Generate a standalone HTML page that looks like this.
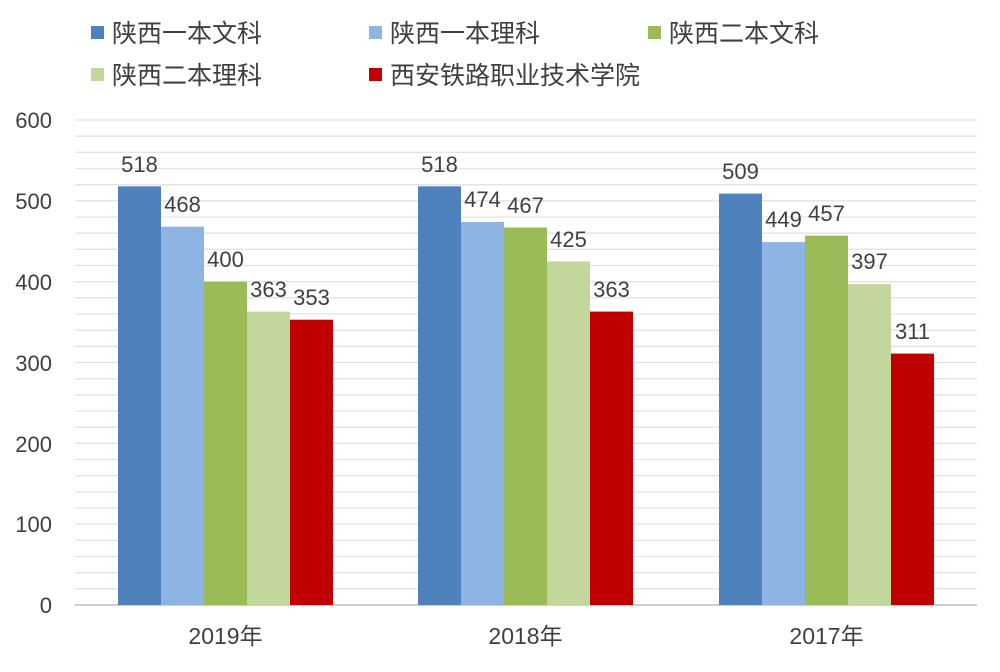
<!DOCTYPE html><html><head><meta charset="utf-8"><style>body{margin:0;background:#fff}</style></head><body>
<svg width="1000" height="667" xmlns="http://www.w3.org/2000/svg" font-family="Liberation Sans, Noto Sans CJK SC, sans-serif">
<g stroke="#e3e3e3" stroke-width="1.3">
<line x1="75" x2="977" y1="120" y2="120"/><line x1="75" x2="977" y1="136.2" y2="136.2"/><line x1="75" x2="977" y1="152.3" y2="152.3"/><line x1="75" x2="977" y1="168.5" y2="168.5"/><line x1="75" x2="977" y1="184.7" y2="184.7"/><line x1="75" x2="977" y1="200.8" y2="200.8"/><line x1="75" x2="977" y1="217" y2="217"/><line x1="75" x2="977" y1="233.2" y2="233.2"/><line x1="75" x2="977" y1="249.3" y2="249.3"/><line x1="75" x2="977" y1="265.5" y2="265.5"/><line x1="75" x2="977" y1="281.7" y2="281.7"/><line x1="75" x2="977" y1="297.8" y2="297.8"/><line x1="75" x2="977" y1="314" y2="314"/><line x1="75" x2="977" y1="330.2" y2="330.2"/><line x1="75" x2="977" y1="346.3" y2="346.3"/><line x1="75" x2="977" y1="362.5" y2="362.5"/><line x1="75" x2="977" y1="378.7" y2="378.7"/><line x1="75" x2="977" y1="394.8" y2="394.8"/><line x1="75" x2="977" y1="411" y2="411"/><line x1="75" x2="977" y1="427.2" y2="427.2"/><line x1="75" x2="977" y1="443.3" y2="443.3"/><line x1="75" x2="977" y1="459.5" y2="459.5"/><line x1="75" x2="977" y1="475.7" y2="475.7"/><line x1="75" x2="977" y1="491.8" y2="491.8"/><line x1="75" x2="977" y1="508" y2="508"/><line x1="75" x2="977" y1="524.2" y2="524.2"/><line x1="75" x2="977" y1="540.3" y2="540.3"/><line x1="75" x2="977" y1="556.5" y2="556.5"/><line x1="75" x2="977" y1="572.7" y2="572.7"/><line x1="75" x2="977" y1="588.8" y2="588.8"/>
</g>
<line x1="75" x2="977" y1="605" y2="605" stroke="#bfbfbf" stroke-width="1.5"/>
<g font-size="22" fill="#404040" text-anchor="end">
<text x="52" y="128">600</text><text x="52" y="209">500</text><text x="52" y="290">400</text><text x="52" y="371">300</text><text x="52" y="452">200</text><text x="52" y="532">100</text><text x="52" y="613">0</text>
</g>
<g>
<rect x="118" y="186.3" width="43" height="418.7" fill="#4F81BD"/><rect x="161" y="226.7" width="43" height="378.3" fill="#8EB4E3"/><rect x="204" y="281.7" width="43" height="323.3" fill="#9BBB59"/><rect x="247" y="311.6" width="43" height="293.4" fill="#C3D69B"/><rect x="290" y="319.7" width="43" height="285.3" fill="#C00000"/>
<rect x="418" y="186.3" width="43" height="418.7" fill="#4F81BD"/><rect x="461" y="221.9" width="43" height="383.1" fill="#8EB4E3"/><rect x="504" y="227.5" width="43" height="377.5" fill="#9BBB59"/><rect x="547" y="261.5" width="43" height="343.5" fill="#C3D69B"/><rect x="590" y="311.6" width="43" height="293.4" fill="#C00000"/>
<rect x="719" y="193.6" width="43" height="411.4" fill="#4F81BD"/><rect x="762" y="242.1" width="43" height="362.9" fill="#8EB4E3"/><rect x="805" y="235.6" width="43" height="369.4" fill="#9BBB59"/><rect x="848" y="284.1" width="43" height="320.9" fill="#C3D69B"/><rect x="891" y="353.6" width="43" height="251.4" fill="#C00000"/>
</g>
<g font-size="22" fill="#404040" text-anchor="middle">
<text x="139.5" y="172">518</text><text x="182.5" y="212">468</text><text x="225.5" y="267">400</text><text x="268.5" y="297">363</text><text x="311.5" y="305">353</text>
<text x="439.5" y="172">518</text><text x="482.5" y="207">474</text><text x="525.5" y="213">467</text><text x="568.5" y="247">425</text><text x="611.5" y="297">363</text>
<text x="740.5" y="179">509</text><text x="783.5" y="227">449</text><text x="826.5" y="221">457</text><text x="869.5" y="269">397</text><text x="912.5" y="339">311</text>
</g>
<g font-size="23" fill="#404040" text-anchor="middle">
<text x="225.5" y="644">2019年</text><text x="525.5" y="644">2018年</text><text x="826.5" y="644">2017年</text>
</g>
<g font-size="25" fill="#404040">
<rect x="91" y="26" width="13" height="13" fill="#4F81BD"/><text x="112" y="42">陕西一本文科</text>
<rect x="369" y="26" width="13" height="13" fill="#8EB4E3"/><text x="390" y="42">陕西一本理科</text>
<rect x="648" y="26" width="13" height="13" fill="#9BBB59"/><text x="669" y="42">陕西二本文科</text>
<rect x="91" y="68" width="13" height="13" fill="#C3D69B"/><text x="112" y="84">陕西二本理科</text>
<rect x="369" y="68" width="13" height="13" fill="#C00000"/><text x="390" y="84">西安铁路职业技术学院</text>
</g>
</svg></body></html>
